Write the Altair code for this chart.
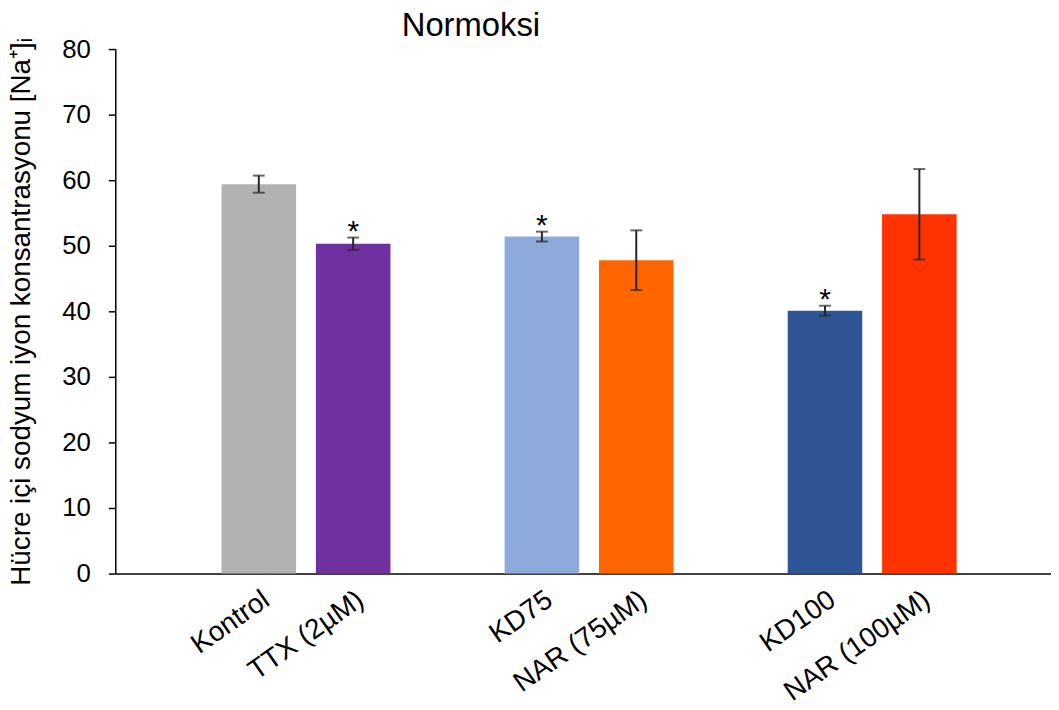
import altair as alt
import pandas as pd

categories = ["Kontrol", "TTX (2µM)", "KD75", "NAR (75µM)", "KD100", "NAR (100µM)"]
means = [59.4, 50.3, 51.4, 47.8, 40.1, 54.8]
errors = [1.3, 0.95, 0.75, 4.55, 0.75, 6.9]
significance = ["", "*", "*", "", "*", ""]
colors = ["#B2B2B2", "#7030A0", "#8EA9DB", "#FF6600", "#2F5597", "#FF3300"]
slots = ["_g0", "Kontrol", "TTX (2µM)", "_g1", "KD75", "NAR (75µM)", "_g2", "KD100", "NAR (100µM)", "_g3"]

df = pd.DataFrame({
    "cat": categories,
    "mean": means,
    "err": errors,
    "sig": significance,
})
df["lo"] = df["mean"] - df["err"]
df["hi"] = df["mean"] + df["err"]

FONT = "Liberation Sans"

x = alt.X(
    "cat:N",
    sort=slots,
    scale=alt.Scale(domain=slots, paddingInner=0.21, paddingOuter=0.063, align=1),
    axis=alt.Axis(
        title=None,
        labelAngle=-35,
        labelExpr="indexof(datum.value, '_g') == 0 ? '' : datum.value",
        ticks=False,
        labelFontSize=28,
        labelFont=FONT,
        labelColor="black",
        labelPadding=12,
        domainColor="black",
        domainWidth=1.5,
        labelOverlap=False,
    ),
)

base = alt.Chart(df)

bars = base.mark_bar().encode(
    x=x,
    y=alt.Y(
        "mean:Q",
        scale=alt.Scale(domain=[0, 80]),
        axis=alt.Axis(
            values=list(range(0, 81, 10)),
            title="Hücre içi sodyum iyon konsantrasyonu [Na⁺]ᵢ",
            titleFontSize=28,
            titleFont=FONT,
            titleFontWeight="normal",
            titleColor="black",
            titlePadding=26,
            labelFontSize=26,
            labelFont=FONT,
            labelColor="black",
            labelPadding=18,
            tickSize=7,
            tickWidth=1.5,
            tickColor="black",
            domainColor="black",
            domainWidth=1.5,
            grid=False,
        ),
    ),
    color=alt.Color("cat:N", scale=alt.Scale(domain=categories, range=colors), legend=None),
)

rules = base.mark_rule(color="#262626", strokeWidth=2).encode(
    x=alt.X("cat:N", sort=slots),
    y="lo:Q",
    y2="hi:Q",
)

caps_hi = base.mark_tick(color="#262626", size=12, thickness=2).encode(
    x=alt.X("cat:N", sort=slots),
    y="hi:Q",
)
caps_lo = base.mark_tick(color="#262626", size=12, thickness=2).encode(
    x=alt.X("cat:N", sort=slots),
    y="lo:Q",
)

stars = base.mark_text(fontSize=30, font=FONT, color="black", baseline="alphabetic", dy=3).encode(
    x=alt.X("cat:N", sort=slots),
    y="hi:Q",
    text="sig:N",
)

chart = (
    alt.layer(bars, rules, caps_hi, caps_lo, stars)
    .properties(
        width=942,
        height=528,
        padding={"left": 0, "top": 0, "right": 0, "bottom": 0},
        title=alt.TitleParams(
            "Normoksi", fontSize=33, font=FONT, fontWeight="normal", color="black",
            anchor="middle", dx=-113, offset=-7,
        ),
    )
    .configure_view(stroke=None)
)

chart.save("out.html", embed_options={"renderer": "svg", "actions": False})
